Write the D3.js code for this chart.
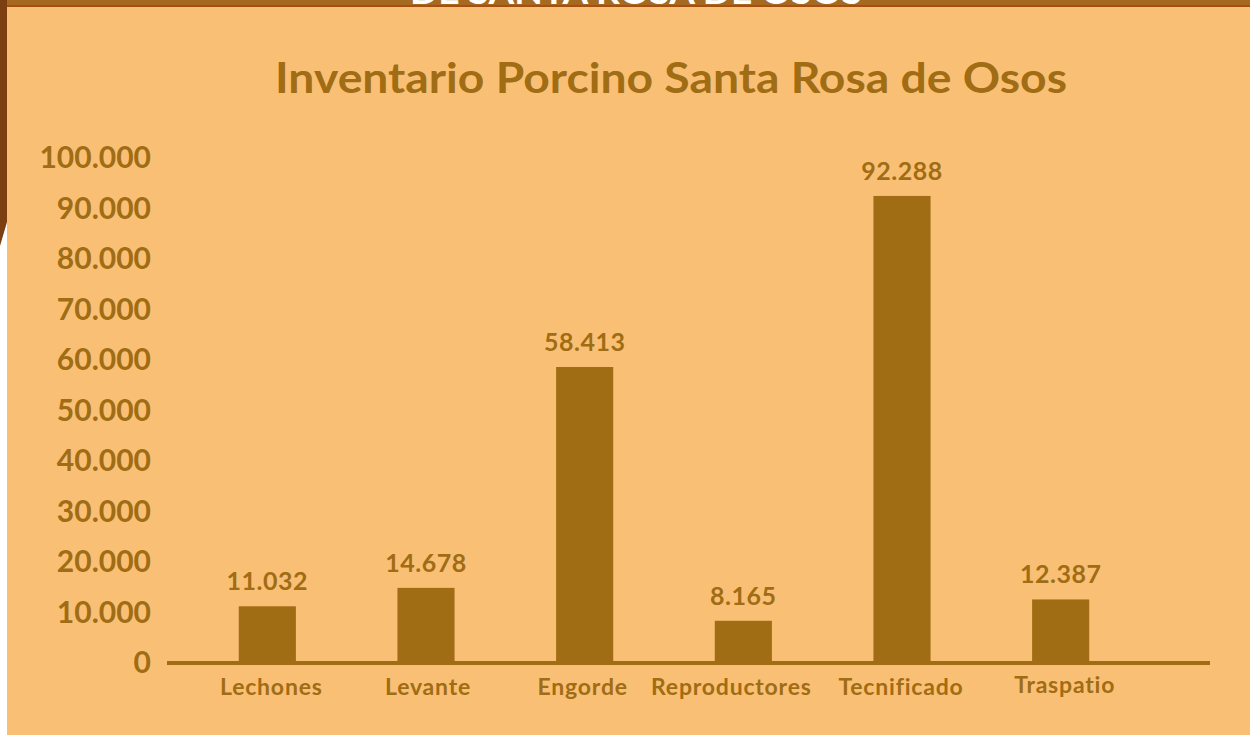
<!DOCTYPE html>
<html><head><meta charset="utf-8">
<script src="https://cdn.jsdelivr.net/npm/d3@7"></script>
<style>
html,body{margin:0;padding:0;background:#fff;}
svg{display:block;}
</style></head>
<body>
<svg id="chart" width="1250" height="735"></svg>
<script>
const categories = ["Lechones","Levante","Engorde","Reproductores","Tecnificado","Traspatio"];
const values = [11032, 14678, 58413, 8165, 92288, 12387];
const valueLabels = ["11.032","14.678","58.413","8.165","92.288","12.387"];
const yTicks = [0,10000,20000,30000,40000,50000,60000,70000,80000,90000,100000];
const yTickLabels = ["0","10.000","20.000","30.000","40.000","50.000","60.000","70.000","80.000","90.000","100.000"];
const title = "Inventario Porcino Santa Rosa de Osos";
const headerText = "DE SANTA ROSA DE OSOS";

const W = 1250, H = 735;
const C_BG = "#F9C075", C_BAR = "#A06C14", C_TXT = "#A06C14";
const FONT = "Lato, 'Open Sans', sans-serif";

const svg = d3.select("#chart");

// backgrounds
svg.append("rect").attr("x",0).attr("y",0).attr("width",W).attr("height",H).attr("fill","#fff");
svg.append("rect").attr("x",7).attr("y",0).attr("width",W-7).attr("height",H).attr("fill",C_BG);
// left brown stripe tapering
svg.append("path").attr("d","M0,0 L7,0 L7,222 L0,246 Z").attr("fill","#7B3F12");
// top header bar
svg.append("rect").attr("x",7).attr("y",0).attr("width",W-7).attr("height",6).attr("fill","#A5691F");
svg.append("rect").attr("x",7).attr("y",5).attr("width",W-7).attr("height",2).attr("fill","#A84E10");
svg.append("defs").append("clipPath").attr("id","hdrclip")
  .append("rect").attr("x",0).attr("y",0).attr("width",W).attr("height",5);
svg.append("text").attr("clip-path","url(#hdrclip)")
  .attr("x",636).attr("y",4).attr("text-anchor","middle")
  .attr("font-family",FONT).attr("font-weight",700).attr("font-size",34)
  .attr("fill","#fff").attr("textLength",452).attr("lengthAdjust","spacingAndGlyphs")
  .text(headerText);

// title
svg.append("text").attr("x",671).attr("y",93).attr("text-anchor","middle")
  .attr("font-family",FONT).attr("font-weight",700).attr("font-size",42)
  .attr("fill",C_TXT).attr("textLength",792).attr("lengthAdjust","spacingAndGlyphs")
  .text(title);

// scales
const x = d3.scaleBand().domain(categories).range([188,1140]).paddingInner(0.64).paddingOuter(0.32);
const y = d3.scaleLinear().domain([0,100000]).range([662,157]);

// y axis labels
const yAxis = d3.axisLeft(y).tickValues(yTicks).tickSize(0).tickPadding(0)
  .tickFormat((d,i)=>yTickLabels[i]);
const gy = svg.append("g").attr("transform","translate(151,0)").call(yAxis);
gy.select(".domain").remove();
gy.selectAll("text").attr("font-family",FONT).attr("font-weight",700)
  .attr("font-size",30).attr("fill",C_TXT).attr("dy","0.36em");

// bars
svg.append("g").selectAll("rect").data(values).join("rect")
  .attr("x",(d,i)=>x(categories[i]))
  .attr("width",x.bandwidth())
  .attr("y",d=>y(d))
  .attr("height",d=>y(0)-y(d))
  .attr("fill",C_BAR);

// value labels
svg.append("g").selectAll("text").data(values).join("text")
  .attr("x",(d,i)=>x(categories[i])+x.bandwidth()/2)
  .attr("y",d=>y(d)-16)
  .attr("text-anchor","middle")
  .attr("font-family",FONT).attr("font-weight",700).attr("font-size",25)
  .attr("letter-spacing",0.5)
  .attr("fill",C_TXT)
  .text((d,i)=>valueLabels[i]);

// x axis line
const xAxis = d3.axisBottom(x).tickSize(0).tickPadding(0);
const gx = svg.append("g").attr("transform","translate(0,662)").call(xAxis);
gx.select(".domain").remove();
gx.selectAll("text").remove();
svg.append("line").attr("x1",167).attr("x2",1210).attr("y1",y(0)+1).attr("y2",y(0)+1)
  .attr("stroke",C_BAR).attr("stroke-width",4);

// category labels
const labelDx = [4,2,-2,-12,-1,4];
const labelDy = [0,0,0,0,0,-2];
svg.append("g").selectAll("text").data(categories).join("text")
  .attr("x",(d,i)=>x(d)+x.bandwidth()/2+labelDx[i])
  .attr("y",(d,i)=>695+labelDy[i])
  .attr("text-anchor","middle")
  .attr("font-family",FONT).attr("font-weight",700).attr("font-size",23)
  .attr("letter-spacing",0.8)
  .attr("fill",C_TXT)
  .text(d=>d);
</script>
</body></html>
